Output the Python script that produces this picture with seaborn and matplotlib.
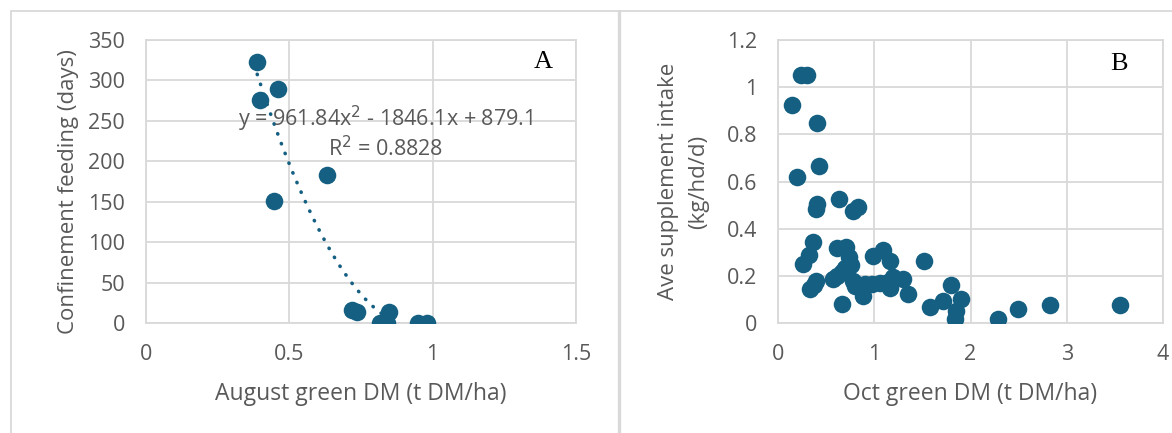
import numpy as np
import pandas as pd
import matplotlib.pyplot as plt
import seaborn as sns
from matplotlib.lines import Line2D

# panel A - August green DM vs confinement feeding days
aug_dm = [0.388, 0.459, 0.399, 0.630, 0.447, 0.720, 0.736, 0.849, 0.816, 0.840, 0.950, 0.979]
conf_days = [323, 290, 276, 183, 151, 16, 13, 14, 0, 0, 0, 0]
trend_coef = [961.84, -1846.1, 879.1]  # Excel trendline as printed on the chart
trend_text = 'y = 961.84x$^2$ - 1846.1x + 879.1'
r2_text = 'R$^2$ = 0.8828'

# panel B - Oct green DM vs average supplement intake
oct_dm = [0.235, 0.300, 0.149, 0.401, 0.429, 0.200, 0.390, 0.400, 0.633, 0.780,
          0.826, 0.366, 0.325, 0.256, 0.609, 0.705, 0.735, 0.755, 0.700, 0.660,
          0.574, 0.610, 0.394, 0.370, 0.330, 0.661, 0.780, 0.800, 0.878, 0.900,
          0.972, 0.982, 1.086, 1.162, 1.058, 1.140, 1.162, 1.196, 1.300, 1.352,
          1.515, 1.584, 1.715, 1.800, 1.905, 1.846, 1.836, 2.285, 2.490, 2.822,
          3.558]
supp_intake = [1.050, 1.052, 0.924, 0.847, 0.667, 0.620, 0.485, 0.503, 0.526, 0.474,
               0.492, 0.345, 0.288, 0.250, 0.318, 0.322, 0.278, 0.247, 0.232, 0.218,
               0.187, 0.200, 0.180, 0.163, 0.143, 0.080, 0.180, 0.157, 0.115, 0.165,
               0.165, 0.282, 0.310, 0.264, 0.168, 0.172, 0.150, 0.193, 0.186, 0.122,
               0.261, 0.068, 0.094, 0.160, 0.101, 0.051, 0.018, 0.016, 0.058, 0.078,
               0.076]

df_a = pd.DataFrame({'x': aug_dm, 'y': conf_days})
df_b = pd.DataFrame({'x': oct_dm, 'y': supp_intake})

sns.set_style('white')
plt.rcParams['font.family'] = ['Open Sans', 'DejaVu Sans']

teal = '#156082'
grey = '#595959'
gridc = '#d9d9d9'

fig = plt.figure(figsize=(11.72, 4.33), dpi=100)
H = 433
W = 1172
axA = fig.add_axes([146/W, (H-323)/H, 430/W, 283/H])
axB = fig.add_axes([778/W, (H-323)/H, 385/W, 283/H])


def style(ax):
    ax.grid(True, color=gridc, linewidth=1.3)
    ax.set_axisbelow(True)
    for s in ax.spines.values():
        s.set_color(gridc)
        s.set_linewidth(1.3)
    ax.tick_params(length=0, pad=15, labelsize=15.5, labelcolor=grey)


sns.scatterplot(data=df_a, x='x', y='y', ax=axA, color=teal, s=160, linewidth=0, zorder=3)
xs = np.linspace(min(aug_dm), max(aug_dm), 200)
axA.plot(xs, np.polyval(trend_coef, xs), color=teal, linewidth=2.6,
         linestyle=(0, (0.1, 2.8)), dash_capstyle='round', zorder=2)
axA.set_xlim(0, 1.5)
axA.set_ylim(0, 350)
axA.set_xticks([0, 0.5, 1, 1.5])
axA.set_xticklabels(['0', '0.5', '1', '1.5'])
axA.set_yticks(range(0, 351, 50))
style(axA)
axA.set_xlabel('August green DM (t DM/ha)', fontsize=16.5, color=grey, labelpad=12)
axA.set_ylabel('Confinement feeding (days)', fontsize=16, color=grey)
axA.yaxis.set_label_coords(-0.156, 0.463)
axA.text(0.556, 0.721, trend_text, transform=axA.transAxes, ha='center', va='center',
         fontsize=15.5, color=grey, zorder=4)
axA.text(0.558, 0.618, r2_text, transform=axA.transAxes, ha='center', va='center',
         fontsize=15.5, color=grey, zorder=4)
axA.text(0.923, 0.922, 'A', transform=axA.transAxes, ha='center', va='center',
         fontsize=19, family='Liberation Serif', color='black')

sns.scatterplot(data=df_b, x='x', y='y', ax=axB, color=teal, s=160, linewidth=0, zorder=3)
axB.set_xlim(0, 4)
axB.set_ylim(0, 1.2)
axB.set_xticks([0, 1, 2, 3, 4])
axB.set_yticks([0, 0.2, 0.4, 0.6, 0.8, 1, 1.2])
axB.set_yticklabels(['0', '0.2', '0.4', '0.6', '0.8', '1', '1.2'])
style(axB)
axB.set_xlabel('Oct green DM (t DM/ha)', fontsize=16.5, color=grey, labelpad=12)
axB.set_ylabel('Ave supplement intake\n(kg/hd/d)', fontsize=16, color=grey,
               linespacing=1.55)
axB.yaxis.set_label_coords(-0.18, 0.5)
axB.text(0.886, 0.915, 'B', transform=axB.transAxes, ha='center', va='center',
         fontsize=19, family='Liberation Serif', color='black')

# chart frames
fig.add_artist(Line2D([11/W, 1], [1-11/H, 1-11/H], color=gridc, linewidth=1.3))
fig.add_artist(Line2D([11/W, 11/W], [0, 1-11/H], color=gridc, linewidth=1.3))
fig.add_artist(Line2D([619/W, 619/W], [0, 1-11/H], color=gridc, linewidth=2.4))

fig.savefig('out.png', dpi=100)
